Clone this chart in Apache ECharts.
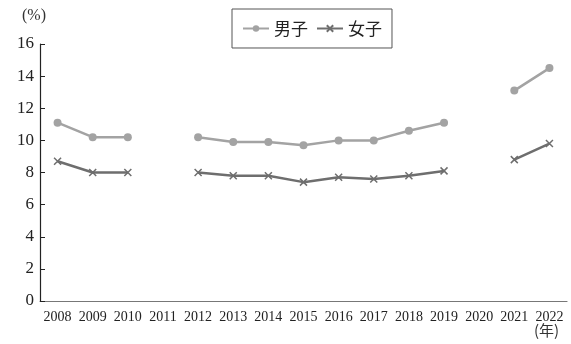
<!DOCTYPE html>
<html>
<head>
<meta charset="utf-8">
<script src="https://cdn.jsdelivr.net/npm/echarts@6/dist/echarts.min.js"></script>
<style>
  html, body { margin: 0; padding: 0; background: #fff; }
  #chart { width: 571px; height: 344px; }
</style>
</head>
<body>
<div id="chart"></div>
<script>
const years = ['2008', '2009', '2010', '2011', '2012', '2013', '2014', '2015',
  '2016', '2017', '2018', '2019', '2020', '2021', '2022']
const boys = [11.1, 10.2, 10.2, null, 10.2, 9.9, 9.9, 9.7, 10.0, 10.0, 10.6, 11.1, null, 13.1, 14.5]
const girls = [8.7, 8.0, 8.0, null, 8.0, 7.8, 7.8, 7.4, 7.7, 7.6, 7.8, 8.1, null, 8.8, 9.8]

const serif = '"Liberation Serif", "Noto Sans CJK JP", serif'
const crossPath = 'path://M0 0L10 10M10 0L0 10'

const chart = echarts.init(document.getElementById('chart'))
chart.setOption({
  animation: false,
  grid: { left: 40, right: 4, top: 44, bottom: 43 },
  legend: {
    top: 9,
    left: 232,
    padding: [11, 10, 11, 10],
    borderColor: '#555',
    borderWidth: 1,
    itemWidth: 26,
    itemHeight: 8,
    itemGap: 8,
    textStyle: { fontFamily: '"Noto Sans CJK JP", serif', fontSize: 17, color: '#222' },
    data: ['男子', '女子'],
  },
  graphic: [
    { type: 'text', left: 22, top: 8, style: { text: '(%)', font: '16px ' + serif, fill: '#333' } },
    { type: 'text', left: 534, top: 323, style: { text: '(年)', font: '15px "Noto Sans CJK JP", serif', fill: '#333' } },
  ],
  xAxis: {
    type: 'category',
    data: years,
    boundaryGap: true,
    axisLine: { lineStyle: { color: '#777', width: 1.2 } },
    axisTick: { show: false },
    axisLabel: { interval: 0, fontFamily: serif, fontSize: 14, color: '#222', margin: 9 },
  },
  yAxis: {
    type: 'value',
    min: 0,
    max: 16,
    interval: 2,
    splitLine: { show: false },
    axisLine: { show: true, lineStyle: { color: '#222', width: 1.2 } },
    axisTick: { show: true, inside: true, length: 5, lineStyle: { color: '#222' } },
    axisLabel: { fontFamily: serif, fontSize: 17, color: '#222', margin: 6 },
  },
  series: [
    {
      name: '男子',
      type: 'line',
      data: boys,
      symbol: 'circle',
      symbolSize: 8,
      lineStyle: { color: '#a3a3a3', width: 2.5 },
      itemStyle: { color: '#a3a3a3' },
    },
    {
      name: '女子',
      type: 'line',
      data: girls,
      symbol: crossPath,
      symbolSize: 7,
      lineStyle: { color: '#6e6e6e', width: 2.5 },
      itemStyle: { color: '#6e6e6e', borderColor: '#6e6e6e', borderWidth: 1.5 },
    },
  ],
})
</script>
</body>
</html>
